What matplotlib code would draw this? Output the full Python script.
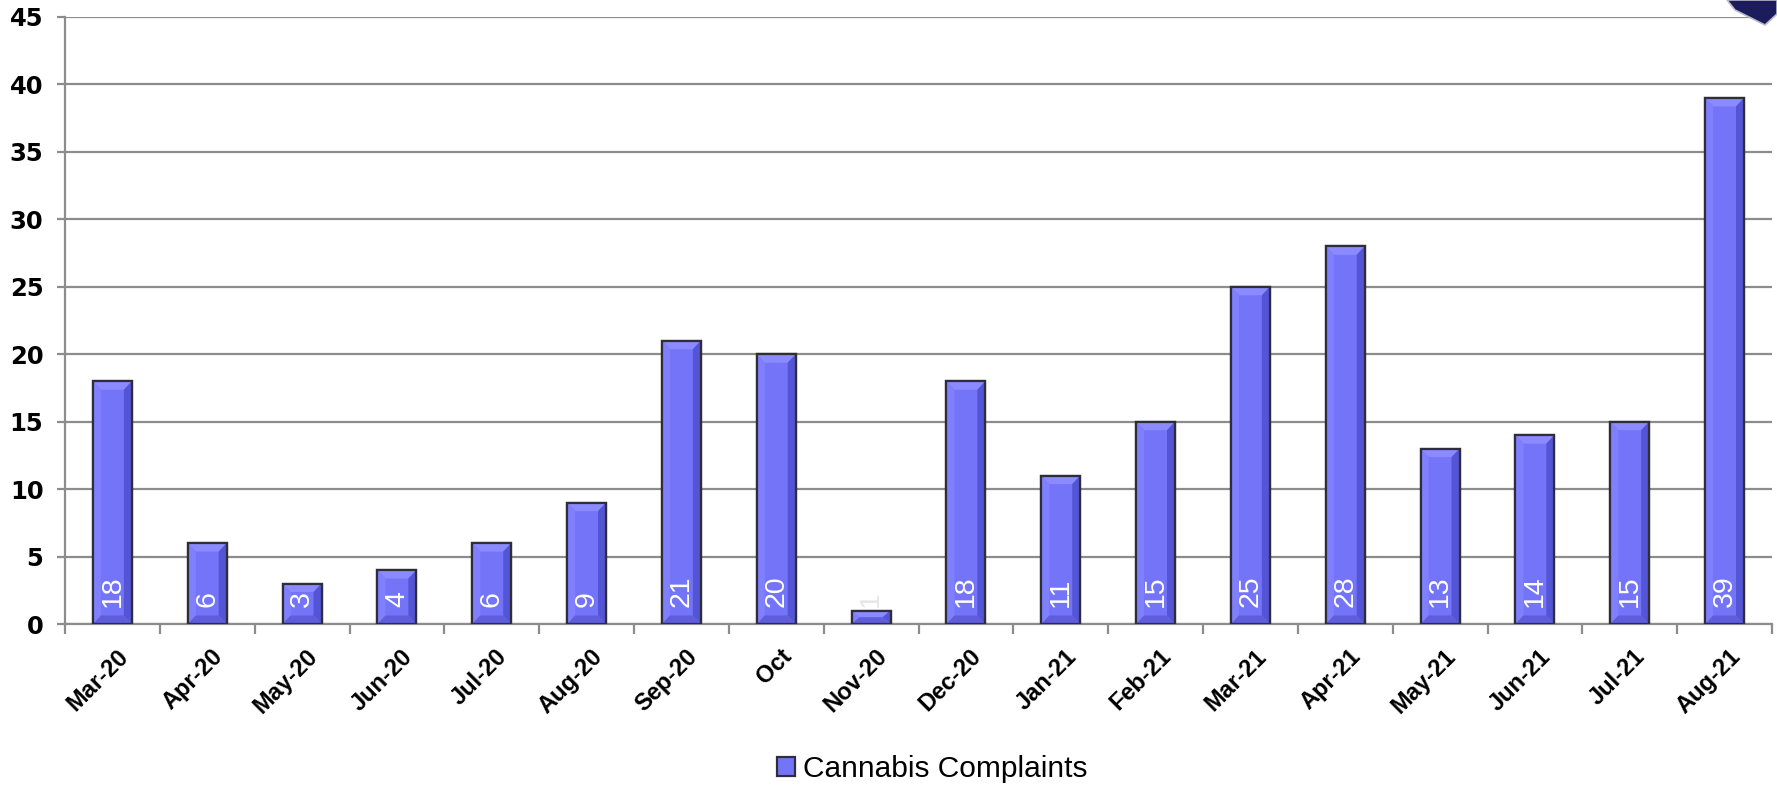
import matplotlib
matplotlib.use("Agg")
import matplotlib.pyplot as plt
import matplotlib.transforms as mtransforms
from matplotlib.patches import Polygon
import numpy as np

months = ["Mar-20", "Apr-20", "May-20", "Jun-20", "Jul-20", "Aug-20", "Sep-20",
          "Oct", "Nov-20", "Dec-20", "Jan-21", "Feb-21", "Mar-21", "Apr-21",
          "May-21", "Jun-21", "Jul-21", "Aug-21"]
complaints = [18, 6, 3, 4, 6, 9, 21, 20, 1, 18, 11, 15, 25, 28, 13, 14, 15, 39]
y_ticks = [0, 5, 10, 15, 20, 25, 30, 35, 40, 45]
series_name = "Cannabis Complaints"

W, H, DPI = 1777, 785, 100
fig = plt.figure(figsize=(W / DPI, H / DPI), dpi=DPI)
ax_l, ax_r, ax_t, ax_b = 65, 1772, 17, 624
ax = fig.add_axes([ax_l / W, 1 - ax_b / H, (ax_r - ax_l) / W, (ax_b - ax_t) / H])

FACE = "#7474F8"
TOP = "#8B8BFF"
LEFT = "#8080FF"
RIGHT = "#5454D6"
BOTTOM = "#5D5DDE"
EDGE = "#2e2e3a"
GRID = "#8c8c8c"

x = np.arange(len(months))
bars = ax.bar(x, complaints, width=0.41, color=FACE, edgecolor=EDGE,
              linewidth=1.6, zorder=3, label=series_name)

ax.set_xlim(-0.5, len(months) - 0.5)
ax.set_ylim(0, 45)

# pixel -> data scale for the bevel faces
px_x = len(months) / (ax_r - ax_l)
px_y = 45 / (ax_b - ax_t)
bev_x = 8 * px_x
for b in bars:
    x0, w, h = b.get_x(), b.get_width(), b.get_height()
    x1 = x0 + w
    bev_y = min(8.5 * px_y, h / 2)
    bx = min(bev_x, w / 2)
    faces = [
        ([(x0, h), (x1, h), (x1 - bx, h - bev_y), (x0 + bx, h - bev_y)], TOP),
        ([(x0, 0), (x0, h), (x0 + bx, h - bev_y), (x0 + bx, bev_y)], LEFT),
        ([(x1, 0), (x1, h), (x1 - bx, h - bev_y), (x1 - bx, bev_y)], RIGHT),
        ([(x0, 0), (x1, 0), (x1 - bx, bev_y), (x0 + bx, bev_y)], BOTTOM),
    ]
    for pts, col in faces:
        ax.add_patch(Polygon(pts, closed=True, facecolor=col, edgecolor="none",
                             zorder=3.5))
    ax.add_patch(plt.Rectangle((x0, 0), w, h, fill=False, edgecolor=EDGE,
                               linewidth=1.6, zorder=3.6))

# value labels inside the bars
for xi, v in zip(x, complaints):
    col = "white" if v * (ax_b - ax_t) / 45 > 30 else "#e6e6e6"
    ax.annotate(str(v), (xi, 0), xytext=(0, 12.5), textcoords="offset points",
                rotation=90, ha="center", va="bottom", color=col,
                fontsize=20.5, family="Liberation Sans", zorder=5)

# grid and axes styling
ax.yaxis.grid(True, color=GRID, linewidth=1.6, zorder=0)
ax.set_axisbelow(True)
for s in ("top", "right"):
    ax.spines[s].set_visible(False)
for s in ("left", "bottom"):
    ax.spines[s].set_color(GRID)
    ax.spines[s].set_linewidth(1.6)

ax.set_yticks(y_ticks)
ax.set_yticklabels([str(t) for t in y_ticks], fontsize=17.5, fontweight="bold",
                   family="DejaVu Sans")
ax.tick_params(axis="y", length=6, width=1.6, color=GRID, pad=9.5)

ax.set_xticks(x)
ax.set_xticklabels(months, rotation=45, ha="right", va="top",
                   rotation_mode="anchor", fontsize=17, fontweight="bold",
                   family="Liberation Sans")
ax.tick_params(axis="x", which="major", length=0, pad=15)
ax.set_xticks(np.arange(-0.5, len(months)), minor=True)
ax.tick_params(axis="x", which="minor", length=7, width=1.6, color=GRID)
shift = mtransforms.ScaledTranslation(0.04, 0, fig.dpi_scale_trans)
for lab in ax.get_xticklabels():
    lab.set_transform(lab.get_transform() + shift)

fig.legend(handles=[bars], labels=[series_name], loc="center",
           bbox_to_anchor=(932 / W, 1 - 769 / H), frameon=False,
           prop={"family": "Liberation Sans", "size": 21.5},
           handlelength=0.62, handleheight=0.62, handletextpad=0.25)

# emblem corner
emb = Polygon([(1727 / W, 1.0), (1.0, 1.0), (1.0, 1 - 14 / H),
               (1765 / W, 1 - 25 / H), (1735 / W, 1 - 10 / H)],
              closed=True, transform=fig.transFigure, facecolor="#1c1c5c",
              edgecolor="#b8b8c8", linewidth=1.2)
fig.patches.append(emb)

fig.savefig("out.png", dpi=DPI)
